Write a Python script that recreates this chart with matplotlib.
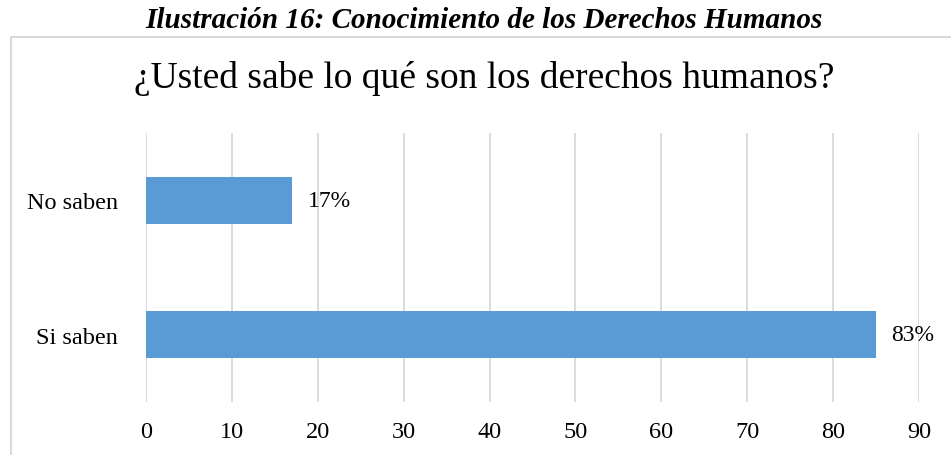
import matplotlib.pyplot as plt
from matplotlib.patches import Rectangle

# Datos
categorias = ["Si saben", "No saben"]
valores = [85, 17]
etiquetas = ["83%", "17%"]
ticks_x = [0, 10, 20, 30, 40, 50, 60, 70, 80, 90]

plt.rcParams['font.family'] = ['Liberation Serif', 'DejaVu Serif']

fig = plt.figure(figsize=(9.51, 4.56), dpi=100)
ax = fig.add_axes([0.1535, 0.1162, 0.8129, 0.5899])

# Marco del gráfico
fig.patches.append(Rectangle((11 / 951, -0.05), 1.0, 0.05 + (456 - 38) / 456,
                             transform=fig.transFigure, fill=False,
                             edgecolor='#d9d9d9', linewidth=1.5))

pos = range(len(categorias))
bars = ax.barh(pos, valores, height=0.35, color='#5B9BD5', zorder=3)
for b, txt in zip(bars, etiquetas):
    ax.text(b.get_width() + 1.8, b.get_y() + b.get_height() / 2, txt,
            va='center', ha='left', fontsize=17, color='#000000')

ax.set_xlim(0, 90)
ax.set_ylim(-0.5, 1.5)
ax.set_xticks(ticks_x)
ax.set_yticks(list(pos))
ax.set_yticklabels(categorias)
ax.tick_params(axis='both', length=0, labelsize=17.5)
ax.tick_params(axis='x', pad=14)
ax.tick_params(axis='y', pad=20)
ax.grid(axis='x', color='#d9d9d9', linewidth=1.3, zorder=0)
for s in ax.spines.values():
    s.set_visible(False)

fig.text(484 / 951, 1 - 79 / 456, "¿Usted sabe lo qué son los derechos humanos?",
         ha='center', va='center', fontsize=27)
fig.text(484 / 951, 1 - 20 / 456, "Ilustración 16: Conocimiento de los Derechos Humanos",
         ha='center', va='center', fontsize=21, fontweight='bold', fontstyle='italic')

fig.savefig("out.png", dpi=100)
